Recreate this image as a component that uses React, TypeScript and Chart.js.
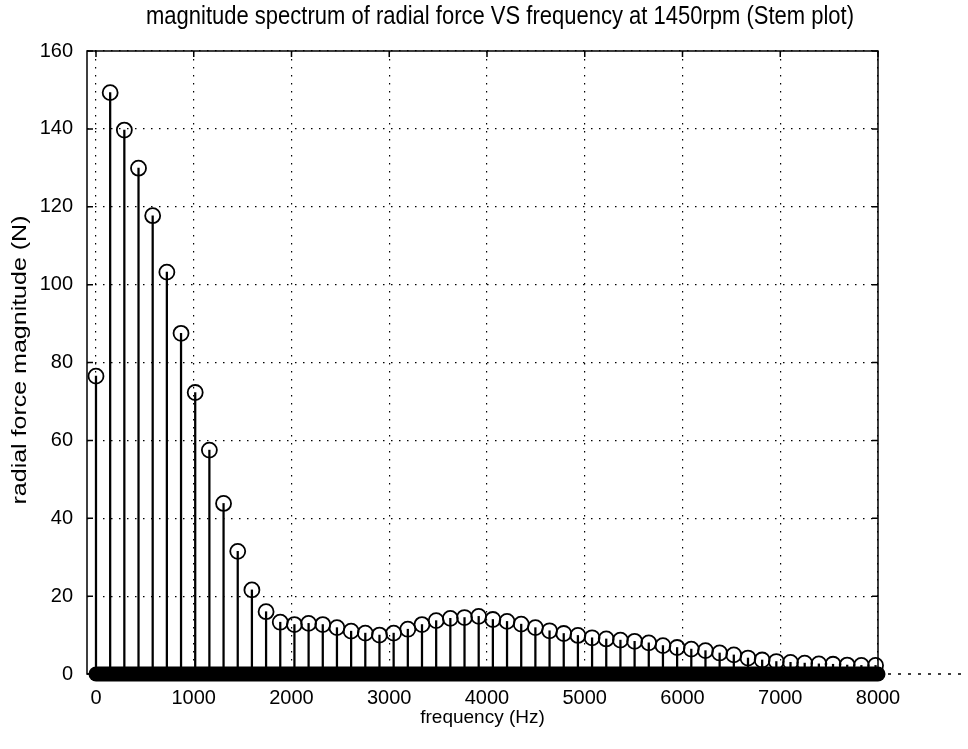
import React, { useEffect, useRef } from 'react';
import { Chart, registerables } from 'chart.js';

Chart.register(...registerables);

// Harmonic frequencies (Hz) of the stem plot
const harmonicFreqs = [
  0, 145, 290, 435, 580, 725, 870, 1015, 1160, 1305, 1450, 1595, 1740, 1885,
  2030, 2175, 2320, 2465, 2610, 2755, 2900, 3045, 3190, 3335, 3480, 3625, 3770,
  3915, 4060, 4205, 4350, 4495, 4640, 4785, 4930, 5075, 5220, 5365, 5510, 5655,
  5800, 5945, 6090, 6235, 6380, 6525, 6670, 6815, 6960, 7105, 7250, 7395, 7540,
  7685, 7830, 7975,
];

// Radial force magnitude (N) at each harmonic
const magnitudes = [
  76.5, 149.3, 139.7, 129.9, 117.7, 103.2, 87.5, 72.3, 57.5, 43.8, 31.5, 21.6,
  16.0, 13.3, 12.7, 13.0, 12.7, 11.9, 11.0, 10.5, 10.0, 10.5, 11.5, 12.7, 13.7,
  14.3, 14.5, 14.8, 14.0, 13.5, 12.8, 11.9, 11.1, 10.4, 9.9, 9.3, 9.0, 8.7, 8.4,
  8.0, 7.3, 6.8, 6.4, 6.0, 5.4, 4.9, 4.1, 3.6, 3.2, 3.0, 2.8, 2.6, 2.5, 2.3,
  2.2, 2.2,
];

// Dense zero-valued bins along the baseline (drawn as a thick band)
const bandFreqs = [0, 8000];
const bandValues = [0, 0];

// Stem baseline continuing beyond the axes
const baselineExtFreqs = [8000, 8900];
const baselineExtValues = [0, 0];

const xTicks = [0, 1000, 2000, 3000, 4000, 5000, 6000, 7000, 8000];
const yTicks = [0, 20, 40, 60, 80, 100, 120, 140, 160];

const titleText = 'magnitude spectrum of radial force VS frequency at 1450rpm (Stem plot)';
const xTitle = 'frequency (Hz)';
const yTitle = 'radial force magnitude (N)';

const FONT = "'Liberation Sans', Arial, Helvetica, sans-serif";

const textPlugin = {
  id: 'matlabText',
  afterDraw(chart: any) {
    const { ctx, chartArea } = chart;
    ctx.save();
    ctx.fillStyle = '#000';
    ctx.textAlign = 'center';
    ctx.textBaseline = 'middle';
    // title (scan is slightly stretched vertically)
    ctx.save();
    ctx.translate(500, 17);
    ctx.scale(1, 1.15);
    ctx.font = `22px ${FONT}`;
    ctx.fillText(titleText, 0, 0);
    ctx.restore();
    // y-axis title, rotated, stretched along its reading direction
    ctx.save();
    ctx.translate(20, 360);
    ctx.rotate(-Math.PI / 2);
    ctx.scale(1.19, 1);
    ctx.font = `21px ${FONT}`;
    ctx.fillText(yTitle, 0, 0);
    ctx.restore();
    ctx.restore();
  },
};

const boxPlugin = {
  id: 'matlabBox',
  afterDraw(chart: any) {
    const { ctx, chartArea } = chart;
    const { left, right, top, bottom } = chartArea;
    const xs = chart.scales.x;
    const ys = chart.scales.y;
    ctx.save();
    ctx.strokeStyle = '#000';
    ctx.lineWidth = 1.5;
    ctx.setLineDash([]);
    ctx.strokeRect(left, top, right - left, bottom - top);
    const tl = 6;
    ctx.beginPath();
    xTicks.forEach((v) => {
      const px = xs.getPixelForValue(v);
      ctx.moveTo(px, bottom);
      ctx.lineTo(px, bottom - tl);
      ctx.moveTo(px, top);
      ctx.lineTo(px, top + tl);
    });
    yTicks.forEach((v) => {
      const py = ys.getPixelForValue(v);
      ctx.moveTo(left, py);
      ctx.lineTo(left + tl, py);
      ctx.moveTo(right, py);
      ctx.lineTo(right - tl, py);
    });
    ctx.stroke();
    ctx.restore();
  },
};

export default function App() {
  const ref = useRef<HTMLCanvasElement>(null);

  useEffect(() => {
    const canvas = ref.current;
    if (!canvas) return;
    Chart.defaults.font.family = FONT;
    const chart = new Chart(canvas, {
      type: 'bar',
      data: {
        datasets: [
          {
            type: 'scatter',
            label: 'markers',
            data: harmonicFreqs.map((x, i) => ({ x, y: magnitudes[i] })),
            pointStyle: 'circle',
            pointRadius: 7.5,
            borderColor: '#000',
            backgroundColor: 'rgba(0,0,0,0)',
            borderWidth: 1.8,
            showLine: false,
            clip: false,
            order: 1,
          } as any,
          {
            type: 'bar',
            label: 'stems',
            data: harmonicFreqs.map((x, i) => ({ x, y: magnitudes[i] })),
            backgroundColor: '#000',
            borderWidth: 0,
            barThickness: 1.6,
            order: 2,
          } as any,
          {
            type: 'line',
            label: 'band',
            data: bandFreqs.map((x, i) => ({ x, y: bandValues[i] })),
            borderColor: '#000',
            borderWidth: 15,
            borderCapStyle: 'round',
            pointRadius: 0,
            clip: false,
            order: 3,
          } as any,
          {
            type: 'line',
            label: 'baselineExt',
            data: baselineExtFreqs.map((x, i) => ({ x, y: baselineExtValues[i] })),
            borderColor: '#000',
            borderWidth: 1.5,
            borderDash: [3, 7],
            pointRadius: 0,
            clip: false,
            order: 4,
          } as any,
        ],
      },
      options: {
        responsive: false,
        animation: false,
        devicePixelRatio: 1,
        layout: { padding: { left: 0, right: 90, top: 51, bottom: 0 } },
        plugins: {
          legend: { display: false },
          tooltip: { enabled: false },
          title: { display: false },
        },
        scales: {
          x: {
            type: 'linear',
            min: -92,
            max: 8000,
            offset: false,
            afterBuildTicks: (s: any) => {
              s.ticks = xTicks.map((v) => ({ value: v }));
            },
            afterFit: (s: any) => {
              s.height = 75;
            },
            ticks: {
              color: '#000',
              font: { size: 20, family: FONT },
              padding: 12,
              maxRotation: 0,
              autoSkip: false,
              callback: (v: any) => String(v),
            },
            grid: {
              color: '#000',
              lineWidth: 1.2,
              drawTicks: false,
              offset: false,
            },
            border: { display: false, dash: [1.5, 6.5] },
            title: {
              display: true,
              text: xTitle,
              color: '#000',
              font: { size: 19, family: FONT },
              padding: { top: 0, bottom: 20 },
            },
          },
          y: {
            type: 'linear',
            min: 0,
            max: 160,
            afterBuildTicks: (s: any) => {
              s.ticks = yTicks.map((v) => ({ value: v }));
            },
            afterFit: (s: any) => {
              s.width = 87;
            },
            ticks: {
              color: '#000',
              font: { size: 20, family: FONT },
              padding: 14,
              callback: (v: any) => String(v),
            },
            grid: {
              color: '#000',
              lineWidth: 1.2,
              drawTicks: false,
            },
            border: { display: false, dash: [1.5, 6.5] },
            title: { display: false },
          },
        },
      } as any,
      plugins: [boxPlugin, textPlugin],
    });
    return () => chart.destroy();
  }, []);

  return (
    <div style={{ position: 'absolute', left: 0, top: 0, width: 968, height: 749, background: '#fff' }}>
      <canvas ref={ref} width={968} height={749} />
    </div>
  );
}
